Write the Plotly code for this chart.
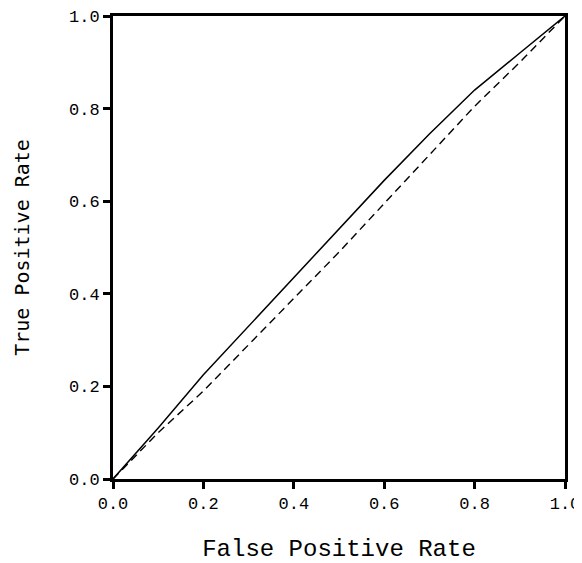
import plotly.graph_objects as go

# ROC curve (solid) and reference/chance curve (dashed)
roc_fpr = [0.0, 0.05, 0.1, 0.2, 0.3, 0.4, 0.5, 0.6, 0.7, 0.8, 0.9, 0.95, 1.0]
roc_tpr = [0.0, 0.055, 0.11, 0.225, 0.33, 0.434, 0.54, 0.645, 0.745, 0.84, 0.92, 0.96, 1.0]

ref_fpr = [0.0, 0.1, 0.2, 0.3, 0.4, 0.5, 0.6, 0.7, 0.8, 0.9, 1.0]
ref_tpr = [0.0, 0.1, 0.19, 0.29, 0.39, 0.49, 0.595, 0.70, 0.805, 0.90, 1.0]

x_ticks = [0.0, 0.2, 0.4, 0.6, 0.8, 1.0]
y_ticks = [0.0, 0.2, 0.4, 0.6, 0.8, 1.0]
tick_text = ["0.0", "0.2", "0.4", "0.6", "0.8", "1.0"]

fig = go.Figure()
fig.add_trace(go.Scatter(x=ref_fpr, y=ref_tpr, mode="lines",
                         line=dict(color="black", width=1.4, dash="8px,5px"),
                         showlegend=False, hoverinfo="skip"))
fig.add_trace(go.Scatter(x=roc_fpr, y=roc_tpr, mode="lines",
                         line=dict(color="black", width=1.5),
                         showlegend=False, hoverinfo="skip"))

mono = "Liberation Mono, Courier New, monospace"
fig.update_layout(
    width=574, height=555,
    margin=dict(l=105, r=17, t=8, b=84),
    paper_bgcolor="white", plot_bgcolor="white",
    font=dict(family=mono, color="black", size=17),
    xaxis=dict(range=[0, 1], tickvals=x_ticks, ticktext=tick_text,
               automargin=False, ticklabeloverflow="allow",
               showgrid=False, zeroline=False,
               showline=True, linecolor="black", linewidth=3, mirror=True,
               ticks="outside", ticklen=7, tickwidth=3, tickcolor="black",
               tickfont=dict(family=mono, size=17),
               title=dict(text="False Positive Rate",
                          font=dict(family=mono, size=24), standoff=35)),
    yaxis=dict(range=[0, 1], tickvals=y_ticks, ticktext=tick_text,
               automargin=False, ticklabeloverflow="allow",
               showgrid=False, zeroline=False,
               showline=True, linecolor="black", linewidth=3, mirror=True,
               ticks="outside", ticklen=7, tickwidth=3, tickcolor="black",
               tickfont=dict(family=mono, size=17),
               title=dict(text="True Positive Rate",
                          font=dict(family="DejaVu Sans Mono, monospace", size=20),
                          standoff=34)),
)

fig.write_html("out.html")
